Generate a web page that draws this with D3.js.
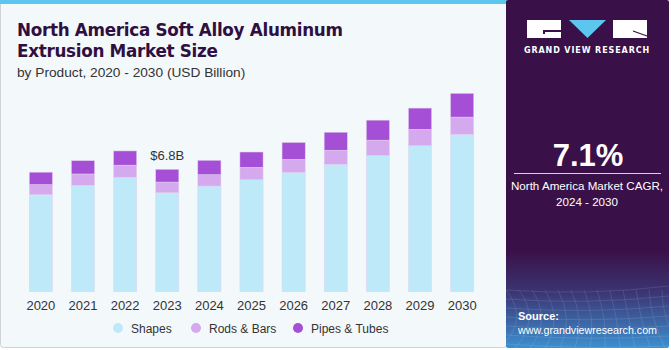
<!DOCTYPE html>
<html><head><meta charset="utf-8">
<script src="https://cdn.jsdelivr.net/npm/d3@7"></script>
<style>body{margin:0;background:#fff;}svg{display:block;font-family:"Liberation Sans",Arial,sans-serif;}</style>
</head><body>
<svg id="c" width="671" height="350"></svg>
<script>
const years = ["2020","2021","2022","2023","2024","2025","2026","2027","2028","2029","2030"];
const shapes = [5.39,5.91,6.36,5.50,5.87,6.22,6.63,7.08,7.56,8.11,8.74];
const rodsBars = [0.56,0.63,0.67,0.59,0.63,0.69,0.72,0.78,0.86,0.91,0.96];
const pipesTubes = [0.69,0.74,0.79,0.71,0.80,0.85,0.94,1.00,1.11,1.18,1.32];
const seriesNames = ["Shapes","Rods & Bars","Pipes & Tubes"];
const colors = ["#bde9f8","#d5a9ed","#a54fd6"];
const annotation = {year:"2023", text:"$6.8B"};

const svg = d3.select("#c");
// background
svg.append("rect").attr("x",0).attr("y",0).attr("width",671).attr("height",350).attr("fill","#ffffff");
svg.append("rect").attr("x",0.5).attr("y",0).attr("width",506).attr("height",347.5).attr("fill","#f3f8fb").attr("stroke","#cfd3d6").attr("stroke-width",1).attr("rx",3);
svg.append("rect").attr("x",0).attr("y",0).attr("width",507).attr("height",4).attr("fill","#5cc6ef");

// right panel
const defs = svg.append("defs");
const g1 = defs.append("linearGradient").attr("id","pg").attr("x1",0).attr("y1",0).attr("x2",0).attr("y2",1);
g1.append("stop").attr("offset","0%").attr("stop-color","#3a1048");
g1.append("stop").attr("offset","72%").attr("stop-color","#3a1048");
g1.append("stop").attr("offset","84%").attr("stop-color","#3b3574");
g1.append("stop").attr("offset","100%").attr("stop-color","#3d8fd0");
svg.append("rect").attr("x",506).attr("y",0).attr("width",163).attr("height",348).attr("fill","url(#pg)").attr("rx",2);
// faint grid lines at the bottom of panel
const gridG = svg.append("g").attr("opacity",0.18).attr("stroke","#ffffff").attr("stroke-width",0.6).attr("fill","none");
for(let i=0;i<14;i++){gridG.append("path").attr("d",`M${506+i*13},290 Q${530+i*11},320 ${500+i*15},348`);}
for(let j=0;j<7;j++){gridG.append("path").attr("d",`M506,${290+j*9} Q588,${296+j*9} 669,${286+j*10}`);}

// logo
svg.append("rect").attr("x",527).attr("y",20).attr("width",34).attr("height",18).attr("fill","#fff");
svg.append("rect").attr("x",544).attr("y",30).attr("width",17).attr("height",2).attr("fill","#3a1048");
svg.append("rect").attr("x",543).attr("y",30).attr("width",2).attr("height",4).attr("fill","#3a1048");
svg.append("path").attr("d","M569,20 L606,20 L587.5,38 Z").attr("fill","#5cc6ef");
svg.append("rect").attr("x",613).attr("y",20).attr("width",34).attr("height",18).attr("fill","#fff");
svg.append("path").attr("d","M633,31 L647,36").attr("stroke","#3a1048").attr("stroke-width",1.2);
svg.append("text").attr("x",587).attr("y",53).attr("text-anchor","middle").attr("fill","#fff")
  .attr("font-size",8).attr("font-weight","bold").attr("letter-spacing",0.9).attr("font-family","'DejaVu Sans',sans-serif").text("GRAND VIEW RESEARCH");

// CAGR
svg.append("text").attr("x",588).attr("y",166).attr("text-anchor","middle").attr("fill","#fff")
  .attr("font-size",31).attr("font-weight","bold").text("7.1%");
svg.append("line").attr("x1",514).attr("x2",661).attr("y1",173.5).attr("y2",173.5).attr("stroke","#d9d0df").attr("stroke-width",1);
svg.append("text").attr("x",587).attr("y",190).attr("text-anchor","middle").attr("fill","#fff").attr("font-size",11.6).text("North America Market CAGR,");
svg.append("text").attr("x",587).attr("y",206).attr("text-anchor","middle").attr("fill","#fff").attr("font-size",11.6).text("2024 - 2030");

// source
svg.append("text").attr("x",518).attr("y",320).attr("fill","#fff").attr("font-size",11).attr("font-weight","bold").text("Source:");
svg.append("text").attr("x",518).attr("y",334).attr("fill","#fff").attr("font-size",10.7).text("www.grandviewresearch.com");

// title
svg.append("text").attr("x",17).attr("y",36).attr("fill","#2f0f40").attr("font-size",16.8).attr("font-weight","900")
  .attr("font-family","'DejaVu Sans',sans-serif").attr("letter-spacing",-0.3).text("North America Soft Alloy Aluminum");
svg.append("text").attr("x",17).attr("y",57).attr("fill","#2f0f40").attr("font-size",16.8).attr("font-weight","900")
  .attr("font-family","'DejaVu Sans',sans-serif").attr("letter-spacing",-0.3).text("Extrusion Market Size");
svg.append("text").attr("x",17).attr("y",77).attr("fill","#333").attr("font-size",13.7).text("by Product, 2020 - 2030 (USD Billion)");

// chart
const data = years.map((y,i)=>({year:y, s0:shapes[i], s1:rodsBars[i], s2:pipesTubes[i]}));
const stack = d3.stack().keys(["s0","s1","s2"])(data);
const x = d3.scaleBand().domain(years).range([20,483]).paddingInner(0.45).paddingOuter(0.22);
const y = d3.scaleLinear().domain([0,6.8]).range([291.7,169.3]);

const chart = svg.append("g");
stack.forEach((layer,li)=>{
  chart.selectAll(null).data(layer).enter().append("rect")
    .attr("x",d=>x(d.data.year)).attr("width",x.bandwidth())
    .attr("y",d=>y(d[1])).attr("height",d=>y(d[0])-y(d[1]))
    .attr("fill",colors[li]).attr("stroke","#e4d2f0").attr("stroke-width",0.5);
});

const xAxis = svg.append("g").attr("transform","translate(0,291.7)").call(d3.axisBottom(x).tickSize(0).tickPadding(9));
xAxis.select(".domain").remove();
xAxis.selectAll("text").attr("font-size",13).attr("fill","#333").attr("font-family","'Liberation Sans',Arial,sans-serif");

const ai = years.indexOf(annotation.year);
svg.append("text").attr("x",x(annotation.year)+x.bandwidth()/2).attr("y",y(shapes[ai]+rodsBars[ai]+pipesTubes[ai])-9)
  .attr("text-anchor","middle").attr("fill","#333").attr("font-size",13).text(annotation.text);

// legend
const legX = [118,196,298];
seriesNames.forEach((n,i)=>{
  svg.append("circle").attr("cx",legX[i]).attr("cy",328).attr("r",5).attr("fill",colors[i]);
  svg.append("text").attr("x",legX[i]+13).attr("y",332.5).attr("fill","#333").attr("font-size",12).text(n);
});
</script>
</body></html>
